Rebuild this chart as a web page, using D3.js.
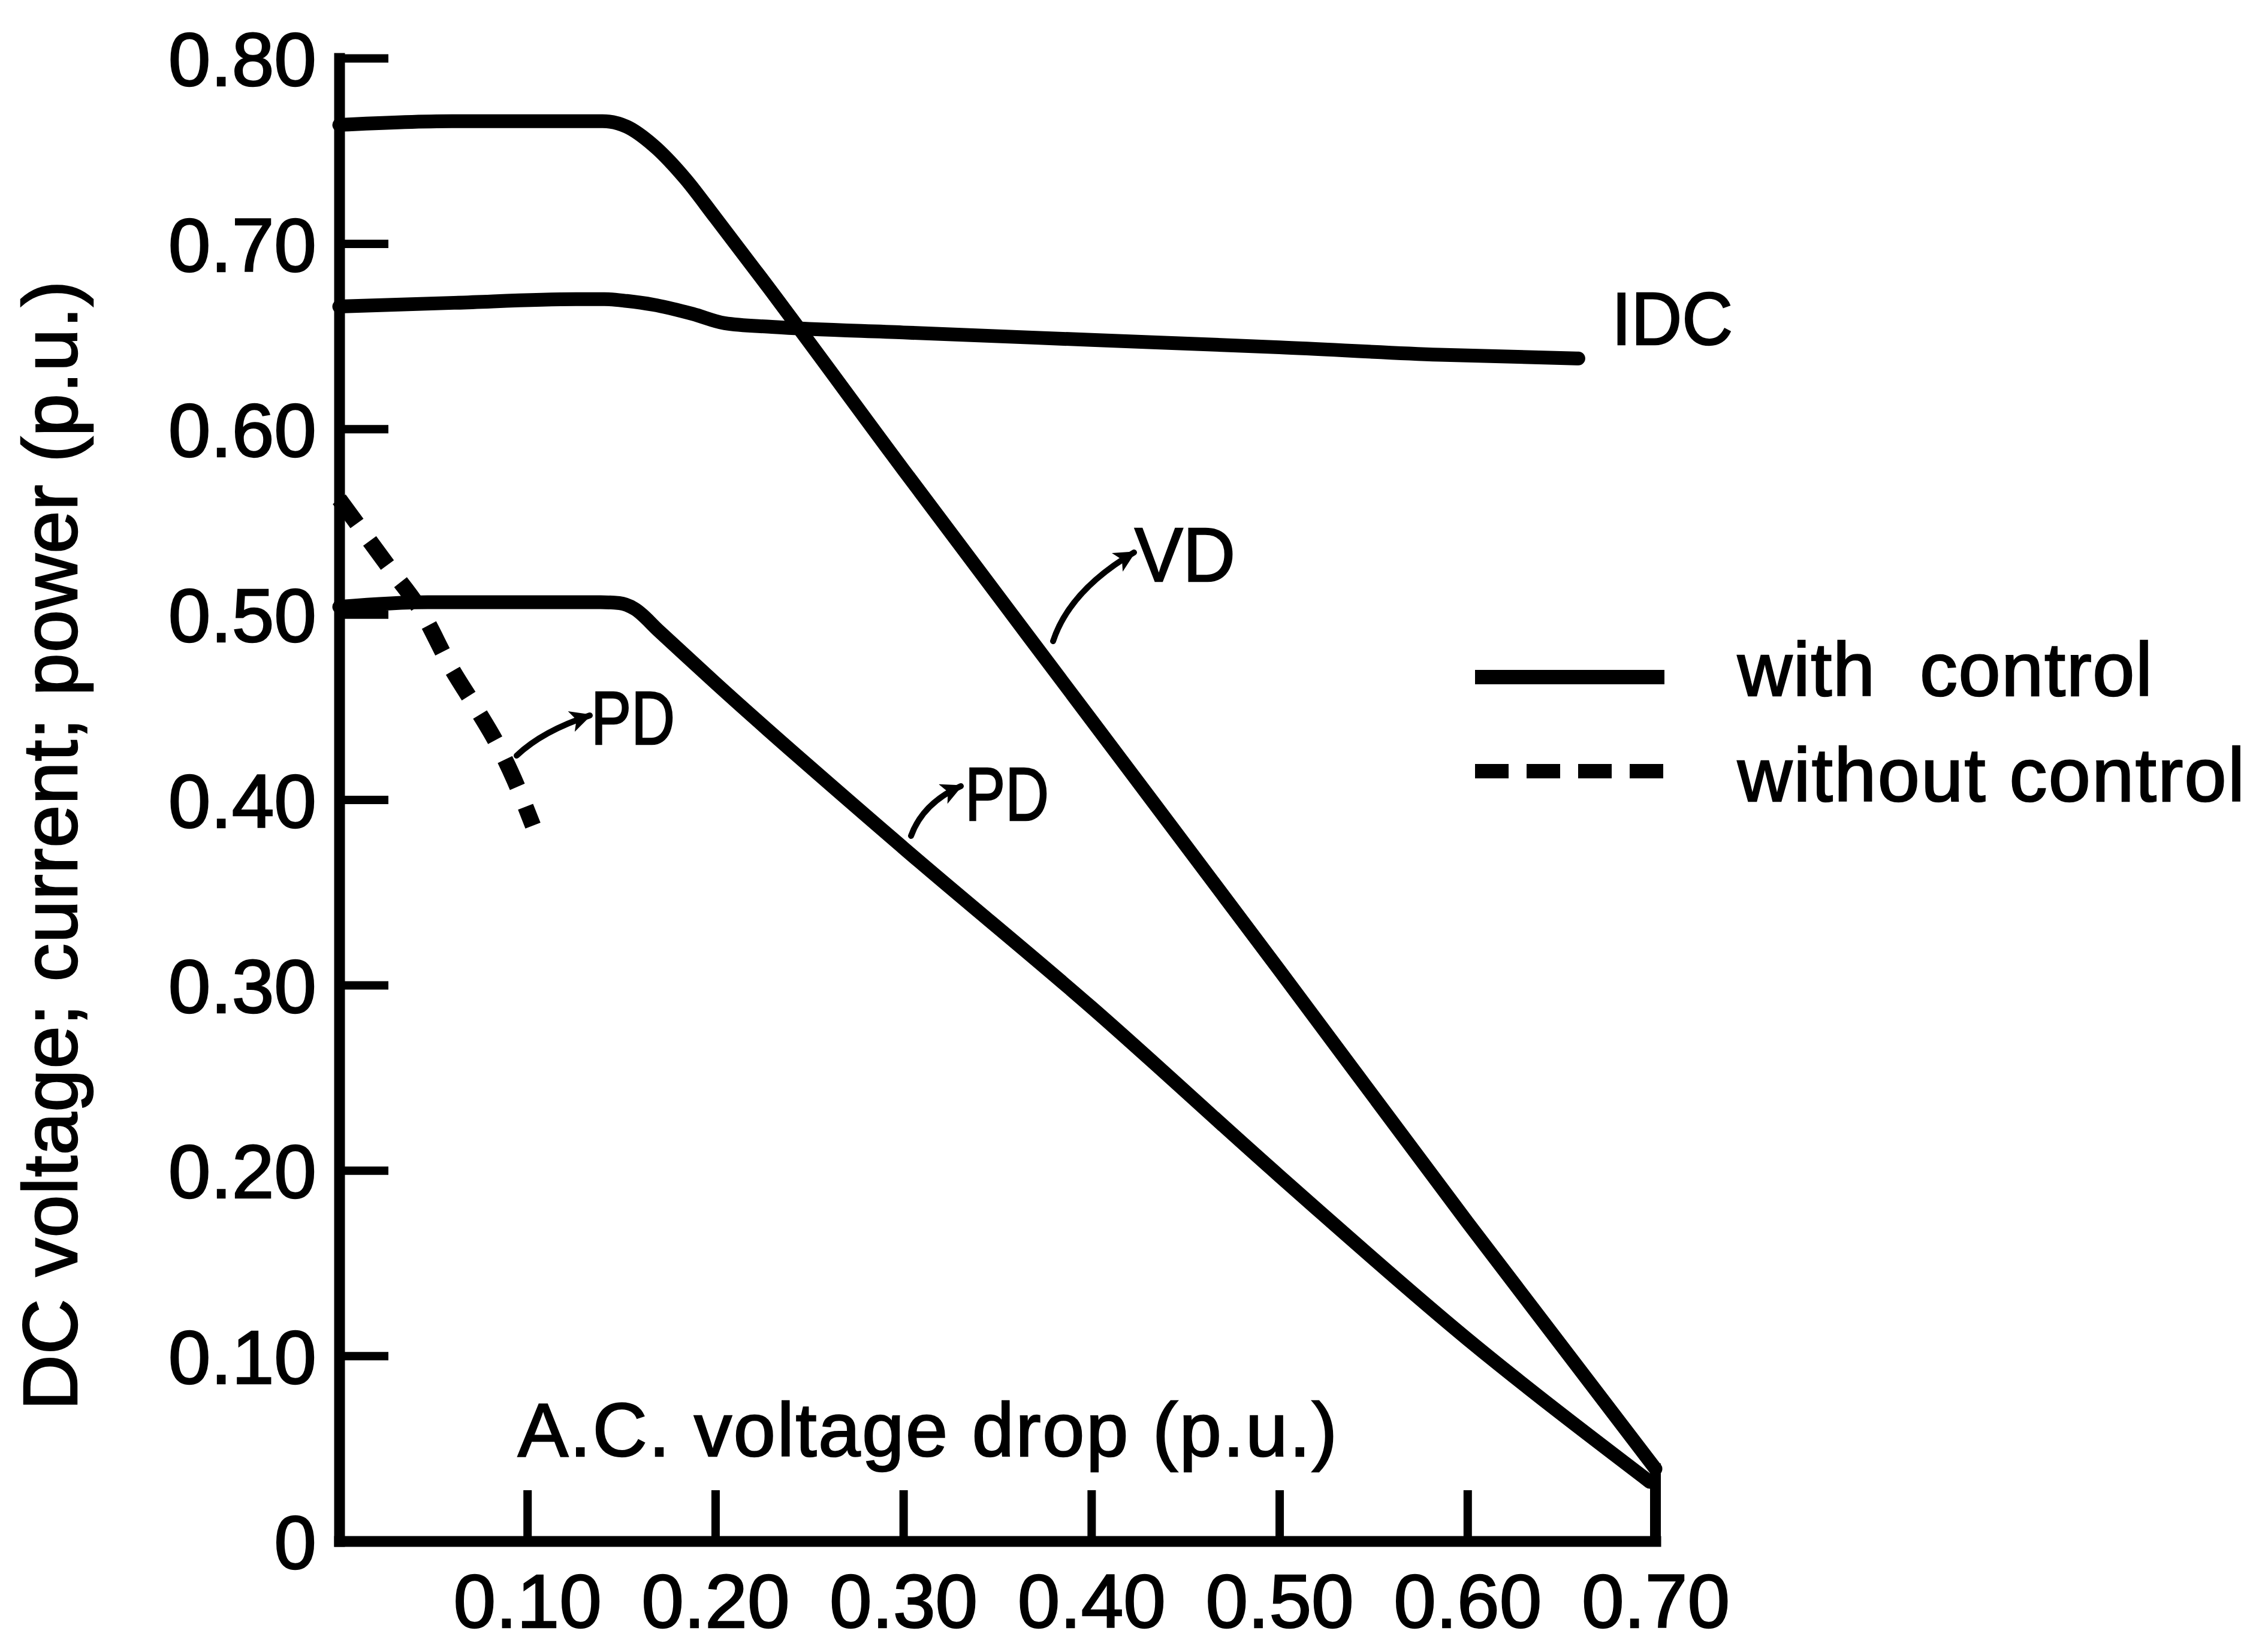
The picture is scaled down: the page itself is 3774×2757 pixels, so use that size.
<!DOCTYPE html>
<html>
<head>
<meta charset="utf-8">
<script src="https://cdn.jsdelivr.net/npm/d3@7"></script>
<style>
html, body { margin: 0; padding: 0; background: #ffffff; }
svg { display: block; }
</style>
</head>
<body>
<script>
// ---------------- DATA ----------------
const xTickValues = [0.1, 0.2, 0.3, 0.4, 0.5, 0.6, 0.7];
const xTickLabels = ["0.10", "0.20", "0.30", "0.40", "0.50", "0.60", "0.70"];
const yTickValues = [0, 0.1, 0.2, 0.3, 0.4, 0.5, 0.6, 0.7, 0.8];
const yTickLabels = ["0", "0.10", "0.20", "0.30", "0.40", "0.50", "0.60", "0.70", "0.80"];

// VD (with control)
const vdX = [0, 0.06, 0.14, 0.153, 0.167, 0.184, 0.200, 0.224, 0.30, 0.40, 0.50, 0.60, 0.70];
const vdY = [0.764, 0.766, 0.766, 0.763, 0.753, 0.735, 0.714, 0.682, 0.578, 0.443, 0.308, 0.172, 0.039];

// IDC (with control)
const idcX = [0, 0.061, 0.126, 0.141, 0.153, 0.167, 0.188, 0.205, 0.230, 0.30, 0.40, 0.50, 0.585, 0.659];
const idcY = [0.666, 0.668, 0.670, 0.670, 0.669, 0.667, 0.662, 0.657, 0.655, 0.652, 0.648, 0.644, 0.640, 0.638];

// PD (with control)
const pdX = [0, 0.047, 0.139, 0.149, 0.157, 0.170, 0.20, 0.30, 0.40, 0.50, 0.60, 0.697];
const pdY = [0.504, 0.5065, 0.5065, 0.506, 0.503, 0.491, 0.463, 0.374, 0.288, 0.197, 0.109, 0.032];

// PD (without control)
const pdNoX = [0, 0.026, 0.044, 0.059, 0.073, 0.084, 0.093, 0.103];
const pdNoY = [0.562, 0.526, 0.501, 0.472, 0.449, 0.430, 0.411, 0.386];

const xTitle = "A.C. voltage drop (p.u.)";
const yTitle = "DC voltage; current; power (p.u.)";
const legendLabels = ["with  control", "without control"];

// ---------------- CHART ----------------
const W = 3774, H = 2757;
const FONT = "'Liberation Sans', Arial, sans-serif";

const svg = d3.select("body").append("svg")
  .attr("width", W).attr("height", H)
  .attr("viewBox", `0 0 ${W} ${H}`)
  .style("background", "#fff");

const x = d3.scaleLinear().domain([0, 0.7]).range([566, 2762]);
const y = d3.scaleLinear().domain([0, 0.8]).range([2572, 97]);

const zip = (a, b) => a.map((v, i) => [v, b[i]]);
const line = d3.line().x(d => x(d[0])).y(d => y(d[1])).curve(d3.curveMonotoneX);

// defs: arrowhead
svg.append("defs").append("marker")
  .attr("id", "arrow")
  .attr("markerUnits", "userSpaceOnUse")
  .attr("viewBox", "0 0 10 10")
  .attr("refX", 9).attr("refY", 5)
  .attr("markerWidth", 64).attr("markerHeight", 36)
  .attr("orient", "auto")
  .append("path").attr("d", "M0,0 L10,5 L0,10 L2.5,5 z").attr("fill", "#000");

// X axis
const xAxis = d3.axisBottom(x)
  .tickValues(xTickValues)
  .tickFormat((d, i) => xTickLabels[i])
  .tickSizeInner(-85).tickSizeOuter(0).tickPadding(54);
const gx = svg.append("g").attr("transform", `translate(0,${y(0)})`).call(xAxis);

// Y axis
const yAxis = d3.axisLeft(y)
  .tickValues(yTickValues)
  .tickFormat((d, i) => yTickLabels[i])
  .tickSizeInner(-82).tickSizeOuter(0).tickPadding(38);
const gy = svg.append("g").attr("transform", `translate(${x(0)},0)`).call(yAxis);

[gx, gy].forEach(g => {
  g.attr("font-family", null).attr("font-size", null);
  g.select(".domain").attr("stroke", "#000").attr("stroke-width", 18).attr("stroke-linecap", "square");
  g.selectAll(".tick line").attr("stroke", "#000").attr("stroke-width", 14);
  g.selectAll(".tick text").attr("fill", "#000")
    .attr("stroke", "#000").attr("stroke-width", 2.5)
    .style("font-family", FONT).style("font-size", "127px");
});
gy.selectAll(".tick text").attr("dy", "0.36em");

// Curves
const curveStyle = sel => sel.attr("fill", "none").attr("stroke", "#000")
  .attr("stroke-width", 23).attr("stroke-linejoin", "round").attr("stroke-linecap", "round");

svg.append("path").datum(zip(vdX, vdY)).attr("d", line).call(curveStyle);
svg.append("path").datum(zip(idcX, idcY)).attr("d", line).call(curveStyle);
svg.append("path").datum(zip(pdX, pdY)).attr("d", line).call(curveStyle);

// vertical end of VD down to the axis at 0.70
const vdLast = vdX.length - 1;
svg.append("line")
  .attr("x1", x(vdX[vdLast])).attr("x2", x(vdX[vdLast]))
  .attr("y1", y(vdY[vdLast])).attr("y2", y(0))
  .attr("stroke", "#000").attr("stroke-width", 18).attr("stroke-linecap", "square");

// dashed PD without control
svg.append("path").datum(zip(pdNoX, pdNoY)).attr("d", line)
  .attr("fill", "none").attr("stroke", "#000").attr("stroke-width", 27)
  .attr("stroke-dasharray", "50,36").attr("stroke-linecap", "butt");

// Annotations
const txt = (s, px, py, fs, len) => {
  const t = svg.append("text").attr("x", px).attr("y", py)
    .style("font-family", FONT).style("font-size", fs + "px")
    .attr("fill", "#000").attr("stroke", "#000").attr("stroke-width", 2.5).text(s);
  if (len) t.attr("textLength", len).attr("lengthAdjust", "spacingAndGlyphs");
  return t;
};
const arrow = (p0, c, p1) => svg.append("path")
  .attr("d", `M${p0[0]},${p0[1]} Q${c[0]},${c[1]} ${p1[0]},${p1[1]}`)
  .attr("fill", "none").attr("stroke", "#000").attr("stroke-width", 10)
  .attr("stroke-linecap", "round").attr("marker-end", "url(#arrow)");

txt("IDC", 2689, 575, 124, 202);
txt("VD", 1893, 970, 128, 168);
arrow([1757, 1070], [1785, 985], [1892, 922]);
txt("PD", 1610, 1369, 127, 140);
arrow([1520, 1395], [1540, 1340], [1603, 1312]);
txt("PD", 986, 1242, 127, 140);
arrow([862, 1261], [905, 1220], [984, 1194]);

// Axis titles
txt(xTitle, 864, 2430, 126).attr("textLength", 1367).attr("lengthAdjust", "spacing");
svg.append("text")
  .attr("transform", "translate(128,1411) rotate(-90)")
  .attr("text-anchor", "middle")
  .style("font-family", FONT).style("font-size", "128px")
  .attr("fill", "#000").attr("stroke", "#000").attr("stroke-width", 2.5)
  .attr("textLength", 1885).attr("lengthAdjust", "spacing")
  .text(yTitle);

// Legend
svg.append("line").attr("x1", 2461).attr("x2", 2777).attr("y1", 1130).attr("y2", 1130)
  .attr("stroke", "#000").attr("stroke-width", 24);
svg.append("line").attr("x1", 2461).attr("x2", 2777).attr("y1", 1287).attr("y2", 1287)
  .attr("stroke", "#000").attr("stroke-width", 24).attr("stroke-dasharray", "56,30");
txt(legendLabels[0], 2899, 1161, 126).attr("textLength", 692).attr("lengthAdjust", "spacing").style("white-space", "pre");
txt(legendLabels[1], 2899, 1337, 126).attr("textLength", 846).attr("lengthAdjust", "spacing");
</script>
</body>
</html>
